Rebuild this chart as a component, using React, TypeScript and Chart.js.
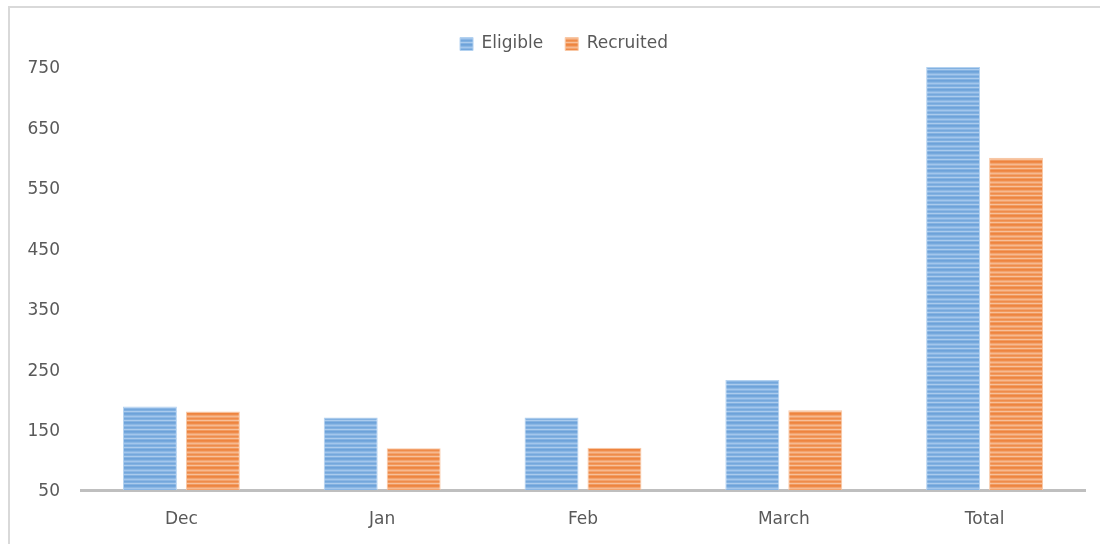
import React, { useEffect, useRef } from "react";
import { Chart, registerables } from "chart.js";

Chart.register(...registerables);

const categories = ["Dec", "Jan", "Feb", "March", "Total"];
const eligible = [188, 170, 170, 232, 750];
const recruited = [180, 119, 120, 182, 600];
const yMin = 50;
const yMax = 750;
const yStep = 100;

const FONT = "'DejaVu Sans', sans-serif";
const TEXT = "#595959";

const blueStripes = ["#75a8dc", "#8bb7e4", "#a3c6ec", "#8ab6e4", "#74a7dc", "#82b1e1", "#abcbed", "#84b2e1", "#6da2da"];
const orangeStripes = ["#ef8b49", "#f3a46f", "#f6b990", "#f3a36d", "#ef8b4a", "#f19a5e", "#f7c09b", "#f19b60", "#ee843f"];

function stripePattern(colors: string[]) {
  const c = document.createElement("canvas");
  c.width = 8;
  c.height = colors.length;
  const ctx = c.getContext("2d")!;
  colors.forEach((col, i) => {
    ctx.fillStyle = col;
    ctx.fillRect(0, i, 8, 1);
  });
  return ctx.createPattern(c, "repeat");
}

const legendShift = {
  id: "legendShift",
  afterLayout(chart: any) {
    const lg = chart.legend;
    if (lg) {
      lg.left += 21.5;
      lg.right += 21.5;
      if (lg.adjustHitBoxes) lg.adjustHitBoxes();
    }
  },
};

export default function App() {
  const ref = useRef<HTMLCanvasElement>(null);

  useEffect(() => {
    document.documentElement.style.overflow = "hidden";
    document.body.style.overflow = "hidden";
    const canvas = ref.current!;
    const chart = new Chart(canvas, {
      type: "bar",
      data: {
        labels: categories,
        datasets: [
          {
            label: "Eligible",
            data: eligible,
            backgroundColor: stripePattern(blueStripes) as any,
            borderColor: "#b4d2f0",
            borderWidth: 1,
            categoryPercentage: 0.627,
            barPercentage: 0.857,
          },
          {
            label: "Recruited",
            data: recruited,
            backgroundColor: stripePattern(orangeStripes) as any,
            borderColor: "#f8c8a6",
            borderWidth: 1,
            categoryPercentage: 0.627,
            barPercentage: 0.857,
          },
        ],
      },
      plugins: [legendShift],
      options: {
        animation: false,
        responsive: false,
        maintainAspectRatio: false,
        layout: { padding: { top: 13.5, right: 15, left: 0, bottom: 0 } },
        plugins: {
          legend: {
            position: "top",
            labels: {
              boxWidth: 13,
              boxHeight: 13,
              padding: 22,
              color: TEXT,
              font: { family: FONT, size: 17 },
            },
          },
          subtitle: {
            display: true,
            text: " ",
            position: "top",
            weight: 500,
            padding: 0,
            font: { size: 4.5, lineHeight: 1 },
            color: "rgba(0,0,0,0)",
          },
          tooltip: { enabled: false },
        },
        scales: {
          x: {
            grid: { display: false, drawTicks: false },
            border: { display: true, color: "#bfbfbf", width: 3 },
            ticks: { color: TEXT, font: { family: FONT, size: 17 }, padding: 19 },
            afterFit: (s: any) => {
              s.height = 54;
            },
          },
          y: {
            min: yMin,
            max: yMax,
            grid: { display: false, drawTicks: false },
            border: { display: false },
            ticks: { stepSize: yStep, color: TEXT, font: { family: FONT, size: 17 }, padding: 21, labelOffset: 2 },
            afterFit: (s: any) => {
              s.width = 81;
            },
          },
        },
      },
    });
    return () => chart.destroy();
  }, []);

  return (
    <div style={{ position: "fixed", left: 0, top: 0, width: 1100, height: 544, overflow: "hidden", background: "#fff" }}>
      <div
        style={{
          position: "absolute",
          left: 8,
          top: 6,
          width: 1200,
          height: 700,
          borderLeft: "2px solid #d9d9d9",
          borderTop: "2px solid #d9d9d9",
        }}
      />
      <canvas ref={ref} width={1100} height={544} style={{ position: "absolute", left: 0, top: 0, width: 1100, height: 544 }} />
    </div>
  );
}
